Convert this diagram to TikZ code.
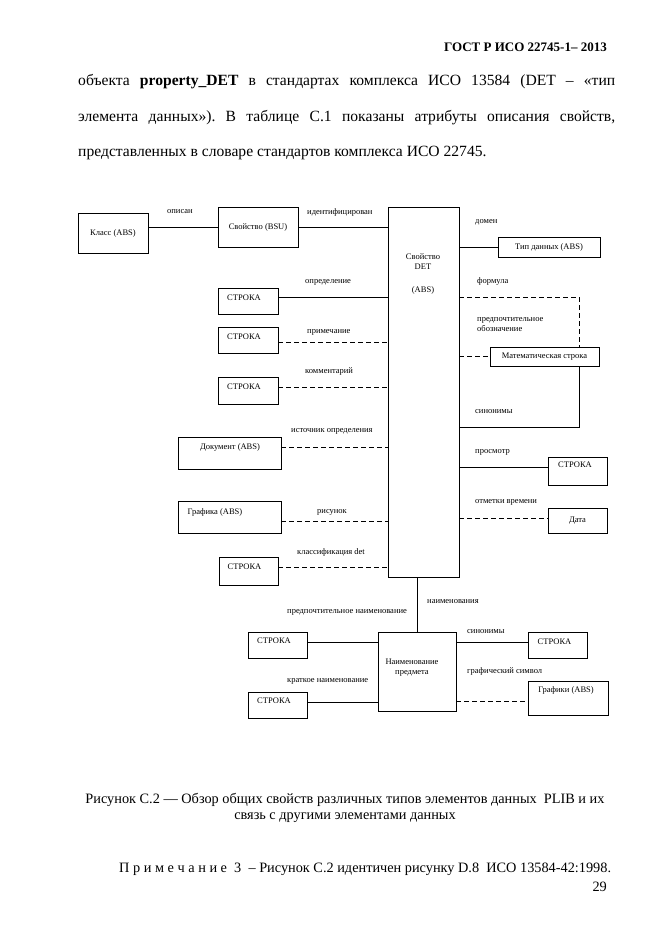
\documentclass[tikz,border=0pt]{standalone}
\usepackage{fontspec}
\setmainfont{Liberation Serif}
\frenchspacing
\usetikzlibrary{positioning, calc}

\begin{document}
\begin{tikzpicture}[
          x=1pt, y=1pt,
          box/.style={rectangle, draw, line width=0.6pt, inner sep=0pt, font=\fontsize{8.5}{9}\selectfont},
          txt/.style={inner sep=0pt, align=center, font=\fontsize{8.5}{10}\selectfont},
          lbl/.style={inner sep=0pt, anchor=west, align=left, font=\fontsize{8.5}{10}\selectfont},
          page/.style={inner sep=0pt, font=\fontsize{15.6}{18}\selectfont},
          link/.style={line width=0.6pt},
          opt/.style={line width=0.6pt, dash pattern=on 5pt off 3pt}
      ]
      \useasboundingbox (0,0) rectangle (661,935);

      % Page text
      \node[page, anchor=east, font=\bfseries\fontsize{13}{15}\selectfont] (head) at (607,888) {ГОСТ Р ИСО 22745-1– 2013};
      \node[page, anchor=west] (par1) at (78,853) {\makebox[537pt][s]{объекта \textbf{property\_DET} в стандартах комплекса ИСО 13584 (DET – «тип}};
      \node[page, anchor=west] (par2) at (78,817) {\makebox[537pt][s]{элемента данных»). В таблице С.1 показаны атрибуты описания свойств,}};
      \node[page, anchor=west] (par3) at (78,782) {представленных в словаре стандартов комплекса ИСО 22745.};

      % Boxes
      \node[box, minimum width=70, minimum height=40] (klass) at (113,702) {Класс (ABS)};
      \node[box, minimum width=80, minimum height=40] (bsu) at (258,708) {Свойство (BSU)};
      \node[box, minimum width=71, minimum height=370] (det) at (423.5,543) {};
      \node[box, minimum width=102, minimum height=20] (dtype) at (549,688) {Тип данных (ABS)};
      \node[box, minimum width=109, minimum height=19] (mathstr) at (544.5,578.5) {Математическая строка};
      \node[box, minimum width=60, minimum height=26] (str-def) at (248,634) {};
      \node[box, minimum width=60, minimum height=26] (str-note) at (248,595) {};
      \node[box, minimum width=60, minimum height=27] (str-com) at (248,544.5) {};
      \node[box, minimum width=103, minimum height=32] (doc) at (229.5,482) {};
      \node[box, minimum width=103, minimum height=32] (graf) at (229.5,418) {};
      \node[box, minimum width=59, minimum height=28] (str-cls) at (248.5,364) {};
      \node[box, minimum width=59, minimum height=28] (str-view) at (577.5,464) {};
      \node[box, minimum width=59, minimum height=25] (date) at (577.5,414.5) {Дата};
      \node[box, minimum width=78, minimum height=79] (iname) at (417,263.5) {};
      \node[box, minimum width=59, minimum height=26] (str-pref) at (277.5,290) {};
      \node[box, minimum width=59, minimum height=26] (str-short) at (277.5,230) {};
      \node[box, minimum width=59, minimum height=26] (str-syn) at (557.5,290) {};
      \node[box, minimum width=80, minimum height=34] (graphs) at (568,237) {};

      % Box texts
      \node[txt] (det-t) at (423,661) {Свойство\\DET\\[13pt](ABS)};
      \node[txt] (str-def-t) at (244,637) {СТРОКА};
      \node[txt] (str-note-t) at (244,598) {СТРОКА};
      \node[txt] (str-com-t) at (244,548) {СТРОКА};
      \node[txt] (doc-t) at (230,488) {Документ (ABS)};
      \node[txt] (graf-t) at (215,423) {Графика (ABS)};
      \node[txt] (str-cls-t) at (244.5,368) {СТРОКА};
      \node[txt] (str-view-t) at (575,470) {СТРОКА};
      \node[txt] (iname-t) at (412,267.5) {Наименование\\предмета};
      \node[txt] (str-pref-t) at (274,294) {СТРОКА};
      \node[txt] (str-short-t) at (274,234) {СТРОКА};
      \node[txt] (str-syn-t) at (554.5,293) {СТРОКА};
      \node[txt] (graphs-t) at (566,245) {Графики (ABS)};

      % Connectors
      \draw[link] (klass.east |- bsu.west) -- (bsu.west);
      \draw[link] (bsu.east) -- (bsu.east -| det.west);
      \draw[link] (det.east |- dtype.west) -- (dtype.west);
      \draw[link] ([yshift=4]str-def.east) -- ([yshift=4]str-def.east -| det.west);
      \draw[opt] ([yshift=-2]str-note.east) -- ([yshift=-2]str-note.east -| det.west);
      \draw[opt] ([yshift=3.5]str-com.east) -- ([yshift=3.5]str-com.east -| det.west);
      \draw[opt] ([yshift=6]doc.east) -- ([yshift=6]doc.east -| det.west);
      \draw[opt] ([yshift=-4]graf.east) -- ([yshift=-4]graf.east -| det.west);
      \draw[opt] ([yshift=4]str-cls.east) -- ([yshift=4]str-cls.east -| det.west);
      \draw[opt] ([yshift=4]str-def.east -| det.east) -| ([xshift=34.5]mathstr.north);
      \draw[opt] (det.east |- mathstr.west) -- (mathstr.west);
      \draw[link] ([xshift=34.5]mathstr.south) |- ([yshift=-61]mathstr.south -| det.east);
      \draw[link] ([yshift=4]str-view.west -| det.east) -- ([yshift=4]str-view.west);
      \draw[opt] ([yshift=2.5]date.west -| det.east) -- ([yshift=2.5]date.west);
      \draw[link] (iname.north |- det.south) -- (iname.north);
      \draw[link] ([yshift=3]str-pref.east) -- ([yshift=3]str-pref.east -| iname.west);
      \draw[link] ([yshift=3]str-short.east) -- ([yshift=3]str-short.east -| iname.west);
      \draw[link] ([yshift=3]str-syn.west -| iname.east) -- ([yshift=3]str-syn.west);
      \draw[opt] ([yshift=-3]graphs.west -| iname.east) -- ([yshift=-3]graphs.west);

      % Labels
      \node[lbl] (l-descr) at (167,723) {описан};
      \node[lbl] (l-ident) at (307,723) {идентифицирован};
      \node[lbl] (l-domain) at (475,713) {домен};
      \node[lbl] (l-formula) at (477,654) {формула};
      \node[lbl] (l-prefsym) at (477,610) {предпочтительное\\обозначение};
      \node[lbl] (l-syn1) at (475,523) {синонимы};
      \node[lbl] (l-view) at (475,483) {просмотр};
      \node[lbl] (l-time) at (475,433) {отметки времени};
      \node[lbl] (l-def) at (305,653) {определение};
      \node[lbl] (l-note) at (307,603) {примечание};
      \node[lbl] (l-comment) at (305,563) {комментарий};
      \node[lbl] (l-source) at (291,504) {источник определения};
      \node[lbl] (l-fig) at (317,423) {рисунок};
      \node[lbl] (l-class) at (297,383) {классификация det};
      \node[lbl] (l-names) at (427,333) {наименования};
      \node[lbl] (l-prefname) at (287,323) {предпочтительное наименование};
      \node[lbl] (l-short) at (287,254) {краткое наименование};
      \node[lbl] (l-syn2) at (467,303) {синонимы};
      \node[lbl] (l-graph) at (467,264) {графический символ};

      % Caption and note
      \node[page, align=center, font=\fontsize{14.3}{16}\selectfont] (cap) at (345,127) {Рисунок С.2 — Обзор общих свойств различных типов элементов данных~ PLIB и их\\связь с другими элементами данных};
      \node[page, anchor=west, font=\fontsize{14.3}{16}\selectfont] (note) at (119,66) {П р и м е ч а н и е~ 3~ – Рисунок С.2 идентичен рисунку D.8~ ИСО 13584-42:1998.};
      \node[page, anchor=east, font=\fontsize{14.3}{16}\selectfont] (pnum) at (607,48) {29};

      \end{tikzpicture}
\end{document}
